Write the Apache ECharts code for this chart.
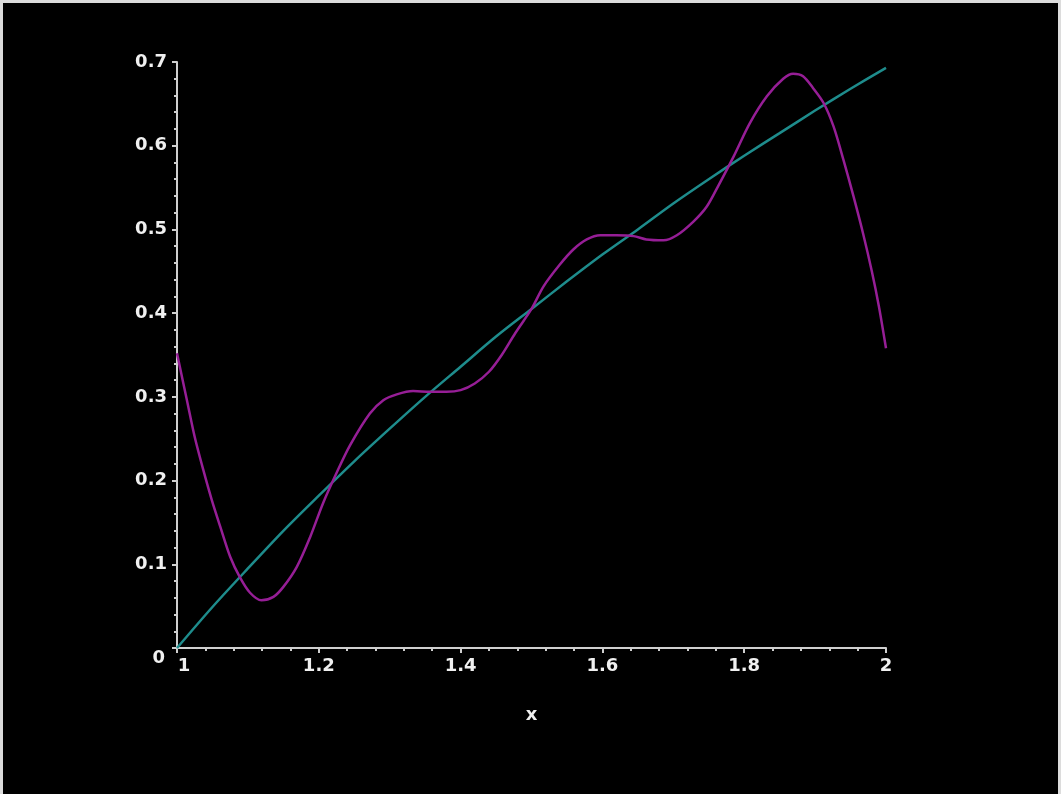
<!DOCTYPE html>
<html>
<head>
<meta charset="utf-8">
<script src="https://cdn.jsdelivr.net/npm/echarts@6/dist/echarts.min.js"></script>
<style>
  html, body { margin: 0; padding: 0; background: #dcdcdc; width: 1061px; height: 794px; overflow: hidden; }
  #chart { position: absolute; left: 3px; top: 3px; width: 1055px; height: 791px; background: #000; }
</style>
</head>
<body>
<div id="chart"></div>
<script>
// Purple (approximating) curve
const purpleX = [1.000,1.014,1.025,1.037,1.049,1.061,1.075,1.089,1.103,1.119,1.136,1.150,1.169,1.188,1.206,1.225,1.244,1.272,1.291,1.310,1.333,1.357,1.380,1.400,1.420,1.440,1.458,1.477,1.500,1.517,1.540,1.559,1.578,1.597,1.620,1.644,1.662,1.686,1.705,1.728,1.747,1.764,1.785,1.808,1.832,1.855,1.869,1.883,1.897,1.912,1.926,1.940,1.954,1.968,1.980,1.990,2.000];
const purpleY = [0.352,0.296,0.252,0.213,0.177,0.145,0.109,0.084,0.066,0.057,0.061,0.073,0.097,0.133,0.173,0.209,0.242,0.280,0.296,0.303,0.307,0.306,0.306,0.308,0.316,0.330,0.350,0.376,0.405,0.432,0.458,0.476,0.488,0.493,0.493,0.492,0.488,0.487,0.493,0.509,0.527,0.553,0.587,0.627,0.659,0.680,0.686,0.683,0.669,0.651,0.623,0.583,0.540,0.494,0.450,0.408,0.358];
// Teal curve
const tealX = [1.00,1.05,1.10,1.15,1.20,1.25,1.30,1.35,1.40,1.45,1.50,1.55,1.60,1.65,1.70,1.75,1.80,1.85,1.90,1.95,2.00];
const tealY = [0.000,0.049,0.095,0.140,0.182,0.223,0.262,0.300,0.336,0.372,0.405,0.438,0.470,0.500,0.531,0.560,0.588,0.615,0.642,0.668,0.693];
// Axis ticks
const xTicks = [1, 1.2, 1.4, 1.6, 1.8, 2];
const yTicks = [0, 0.1, 0.2, 0.3, 0.4, 0.5, 0.6, 0.7];
const xName = 'x';

const pair = (xs, ys) => xs.map((x, i) => [x, ys[i]]);
const labelFont = { color: '#f0f0f0', fontFamily: 'DejaVu Sans', fontWeight: 'bold', fontSize: 18 };
const axisLine = { show: true, lineStyle: { color: '#cfcfcf', width: 2 } };

const chart = echarts.init(document.getElementById('chart'));
chart.setOption({
  backgroundColor: '#000',
  animation: false,
  grid: { left: 174, right: 172, top: 59, bottom: 146, containLabel: false },
  xAxis: {
    type: 'value',
    min: xTicks[0], max: xTicks[xTicks.length - 1], interval: 0.2,
    name: xName, nameLocation: 'middle', nameGap: 58,
    nameTextStyle: labelFont,
    axisLine: axisLine,
    axisTick: { show: true, length: 5, lineStyle: { color: '#cfcfcf', width: 2 } },
    minorTick: { show: true, splitNumber: 5, length: 3, lineStyle: { color: '#cfcfcf', width: 2 } },
    axisLabel: Object.assign({
      margin: 9,
      formatter: v => v === xTicks[0] ? '{f|' + v + '}' : String(v),
      rich: { f: Object.assign({ padding: [0, 0, 0, 14] }, labelFont) }
    }, labelFont),
    splitLine: { show: false }
  },
  yAxis: {
    type: 'value',
    min: yTicks[0], max: yTicks[yTicks.length - 1], interval: 0.1,
    axisLine: axisLine,
    axisTick: { show: true, length: 5, lineStyle: { color: '#cfcfcf', width: 2 } },
    minorTick: { show: true, splitNumber: 5, length: 3, lineStyle: { color: '#cfcfcf', width: 2 } },
    axisLabel: Object.assign({
      margin: 10,
      formatter: v => v === yTicks[0] ? '{z|' + v + '}' : String(v),
      rich: { z: Object.assign({ padding: [20, 2, 0, 0] }, labelFont) }
    }, labelFont),
    splitLine: { show: false }
  },
  series: [
    {
      type: 'line', data: pair(tealX, tealY), smooth: 0.3, symbol: 'none',
      lineStyle: { color: '#1e8c8c', width: 2.5 }
    },
    {
      type: 'line', data: pair(purpleX, purpleY), smooth: 0.3, symbol: 'none',
      lineStyle: { color: '#961e96', width: 2.5 }
    }
  ]
});
</script>
</body>
</html>
